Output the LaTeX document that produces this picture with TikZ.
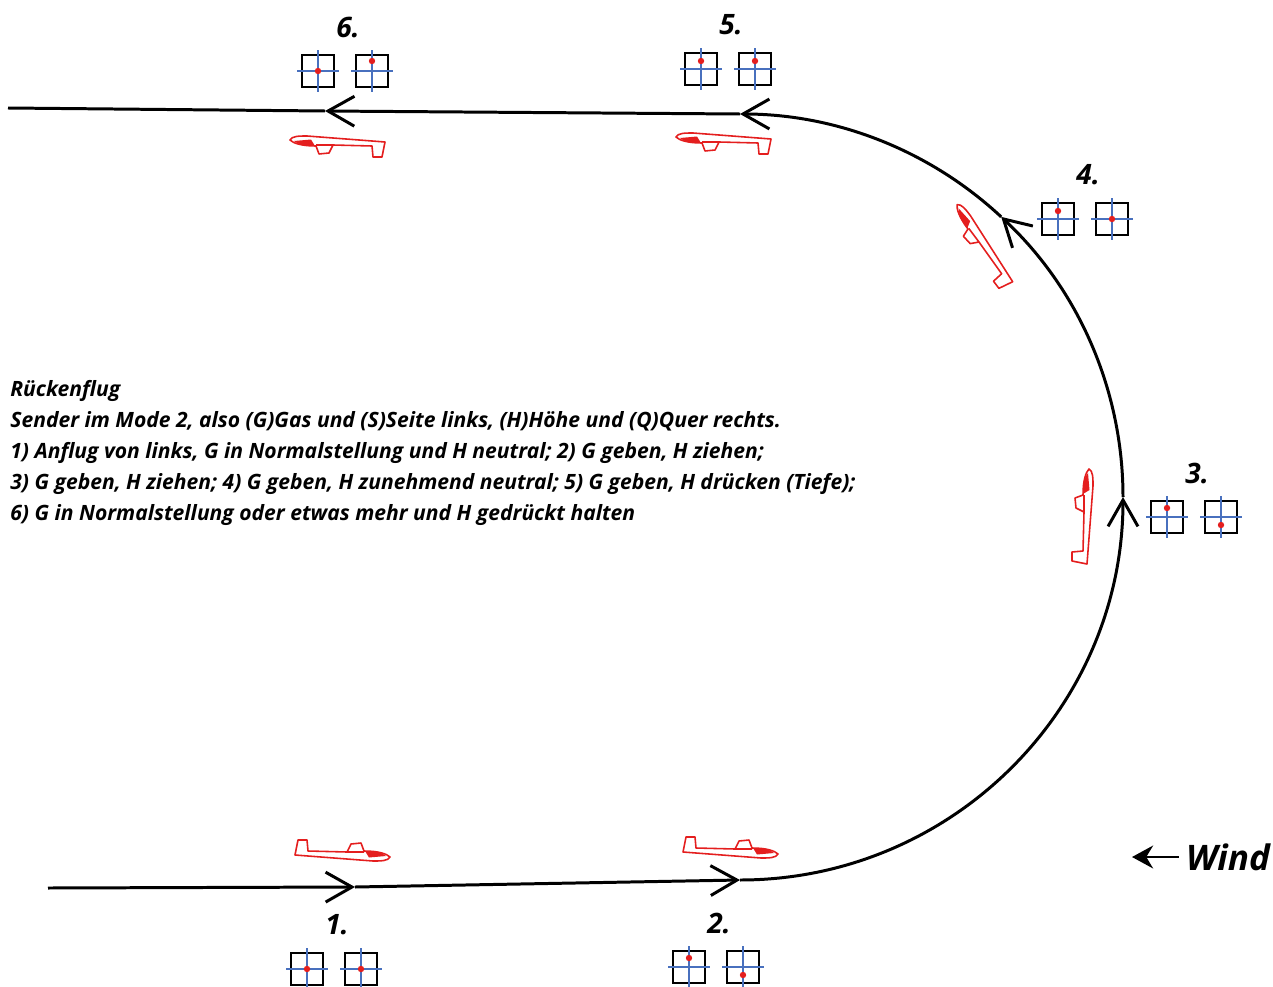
\documentclass[tikz,border=0pt]{standalone}
\usepackage{fontspec}
\setmainfont{Open Sans}
\usetikzlibrary{arrows.meta}

\definecolor{planered}{RGB}{228,30,30}
\definecolor{stickblue}{RGB}{72,112,190}

\tikzset{
  flight/.style={line width=1.7pt, -{Straight Barb[length=15pt,width=17pt]}},
  stickbox/.style={draw, line width=1pt, minimum size=6.4mm, inner sep=0pt},
  cross/.style={stickblue, line width=0.75pt},
  numlabel/.style={font=\fontsize{16}{18}\selectfont\bfseries\itshape},
  notes/.style={anchor=north west, align=left, inner sep=0pt,
    font=\fontsize{12}{17.6}\selectfont\bfseries\itshape},
  glider/.pic={
    % side view, nose to the right
    \draw[planered, line width=0.9pt, line join=round]
      (-46,5) -- (-43,-10) -- (-34,-10) -- (-33,1) -- (6,2) -- (10,-6) -- (20,-7) -- (23,1)
      .. controls (38,1) and (46,4) .. (49,7) .. controls (47,11) and (40,11) .. (32,11) -- cycle
      (6,2) -- (23,2);
    \fill[planered] (24,1) .. controls (35,1) and (42,3) .. (45,6) -- (28,7.5) -- cycle;
  }
}

\begin{document}
\begin{tikzpicture}[x=0.2mm, y=-0.2mm, >=stealth]
  \useasboundingbox (0,0) rectangle (1273,987);

  % 1. The flight path: straight in, half circle, straight out
  \coordinate (start) at (48,888);
  \coordinate (p1) at (355,887);
  \coordinate (p2) at (740,880);
  \coordinate (p6) at (325,111);
  \coordinate (finish) at (8,108);

  \draw[flight] (start) -- (p1);
  \draw[flight] (p1) -- (p2);
  \draw[flight] (p2) arc[start angle=90, end angle=0, radius=383] coordinate (p3);
  \draw[flight] (p3) arc[start angle=0, end angle=-47, radius=383] coordinate (p4);
  \draw[flight] (p4) arc[start angle=-47, end angle=-90, radius=383] coordinate (p5);
  \draw[flight] (p5) -- (p6);
  \draw[line width=1.7pt] (p6) -- (finish);

  % 2. The glider at each stage
  \pic at (341,850) {glider};
  \pic at (729,847) {glider};
  \pic[rotate=90] at (1082,518) {glider};
  \pic[rotate=127] at (981,248) {glider};
  \pic[rotate=180] at (725,144) {glider};
  \pic[rotate=180] at (339,147) {glider};

  % 3. Stick positions: left stick (G), right stick (H), dot offsets in y
  \foreach \n/\x/\y/\ly/\ry in {1/307/969/0/0, 2/689/967/-9/8, 3/1167/517/-9/8,
                                4/1058/219/-8/0, 5/701/69/-8/-8, 6/318/71/0/-10} {
    \node[stickbox] (l\n) at (\x,\y) {};
    \node[stickbox] (r\n) at (\x+54,\y) {};
    \draw[cross] (\x-21,\y) -- (\x+21,\y) (\x,\y-21) -- (\x,\y+21);
    \draw[cross] (\x+33,\y) -- (\x+75,\y) (\x+54,\y-21) -- (\x+54,\y+21);
    \fill[planered] (\x,{\y+\ly}) circle (3.2);
    \fill[planered] (\x+54,{\y+\ry}) circle (3.2);
    \node[numlabel] (n\n) at (\x+30,\y-44) {\n.};
  }

  % 4. Description
  \node[notes] (info) at (10,380) {R\"uckenflug\\
    Sender im Mode 2, also (G)Gas und (S)Seite links, (H)H\"ohe und (Q)Quer rechts.\\
    1) Anflug von links, G in Normalstellung und H neutral; 2) G geben, H ziehen;\\
    3) G geben, H ziehen; 4) G geben, H zunehmend neutral; 5) G geben, H dr\"ucken (Tiefe);\\
    6) G in Normalstellung oder etwas mehr und H gedr\"uckt halten};

  % 5. Wind direction
  \node[font=\fontsize{20}{22}\selectfont\bfseries\itshape, inner sep=0pt] (wind) at (1228,857) {Wind};
  \coordinate (windtip) at (1132,857);
  \draw[line width=1.4pt, -{Stealth[length=12pt,width=13pt]}, shorten <=4pt] (wind.west) -- (windtip);

\end{tikzpicture}
\end{document}
